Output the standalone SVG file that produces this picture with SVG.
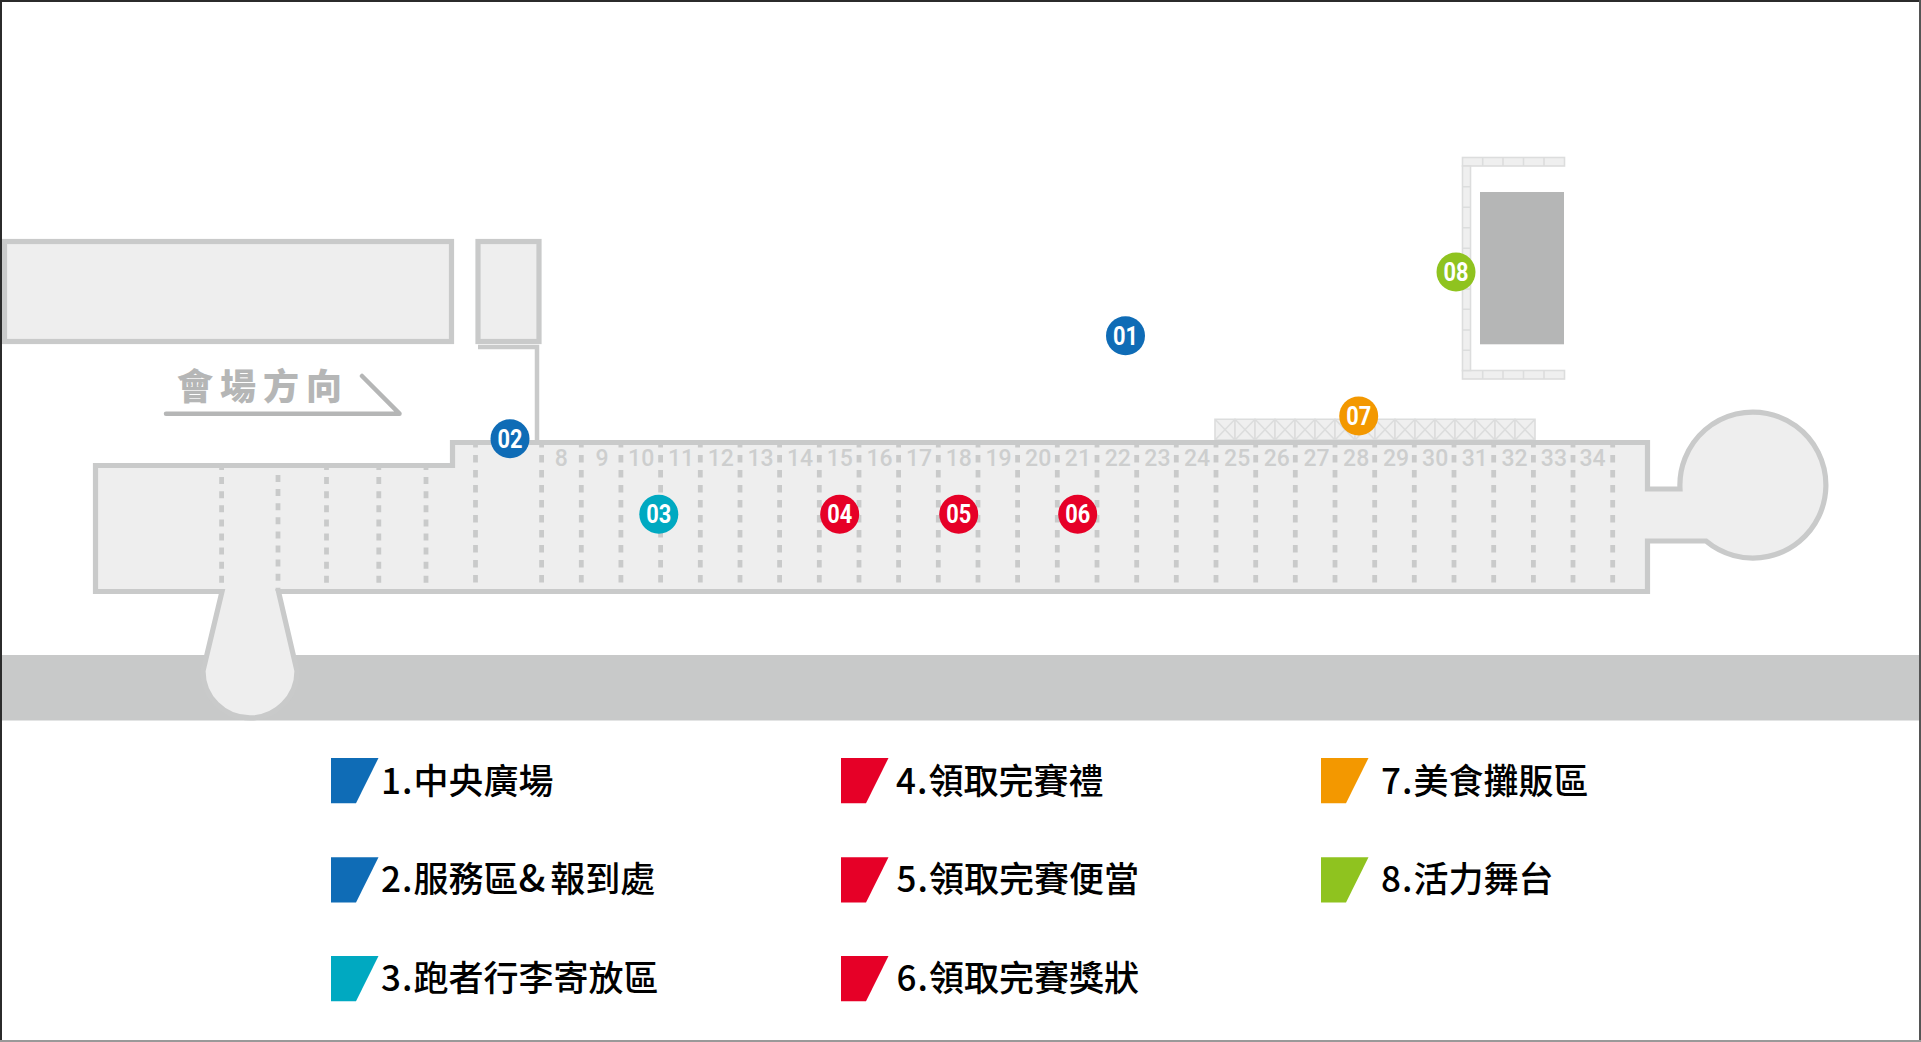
<svg xmlns="http://www.w3.org/2000/svg" width="1921" height="1042" viewBox="0 0 1921 1042">
<style>
.wall{fill:#eeeeee;stroke:#c9caca;stroke-width:5.200}
.line{fill:none;stroke:#c9caca;stroke-width:4.500}
.dash{fill:none;stroke:#c9caca;stroke-width:4.800}
.truss{fill:#efefef;stroke:#dcdddd;stroke-width:1.600}
.num{font-family:Roboto,"Liberation Sans",sans-serif;font-weight:500;font-size:23px;fill:#cdcece;text-anchor:middle}
.pin text{font-family:Roboto,"Liberation Sans",sans-serif;font-weight:700;font-size:25px;fill:#fff;text-anchor:middle}
.leg{font-family:"Noto Sans CJK TC","Noto Sans",sans-serif;font-size:35px;font-weight:500;fill:#000}
.leg .p{letter-spacing:1px}
.leg .amp{font-size:38px;letter-spacing:5px}
.dir{font-family:"Noto Sans CJK TC","Noto Sans",sans-serif;font-size:36px;font-weight:900;fill:#b5b6b6;letter-spacing:7px}
.blue{fill:#0f6cb6}.teal{fill:#00a9c1}.red{fill:#e60027}.orange{fill:#f39800}.green{fill:#8fc31f}
</style>
<defs>
<path id="cell" d="M0 0H20V20.700H0ZM0 0L20 20.700M20 0L0 20.700"/>
<polygon id="swatch" points="0,0 47.500,0 25,45.300 0,45.300"/>
</defs>
<rect id="background" width="1921" height="1042" fill="#fff"/>
<rect id="road" x="0" y="655" width="1921" height="65.500" fill="#c8c9c9"/>

<g id="buildings">
<rect class="wall" x="4.500" y="241.500" width="447" height="100"/>
<rect class="wall" x="478" y="241.500" width="61" height="100"/>
<path class="line" d="M478 347H537V442"/>
</g>

<g id="direction">
<text class="dir" x="177" y="400">會場方向</text>
<path d="M166 413.700H399.500L362 376" fill="none" stroke="#b5b6b6" stroke-width="4.500" stroke-linecap="round" stroke-linejoin="round"/>
</g>

<g id="stage">
<g class="truss">
<rect x="1462.500" y="157.500" width="102" height="8.500"/>
<path d="M1482.700 157.500V166M1503 157.500V166M1523.500 157.500V166M1544 157.500V166"/>
<rect x="1462.500" y="370.500" width="102" height="8.500"/>
<path d="M1482.700 370.500V379M1503 370.500V379M1523.500 370.500V379M1544 370.500V379"/>
<rect x="1462.500" y="166" width="8" height="204.500"/>
<path d="M1462.500 186.700H1470.500M1462.500 207.300H1470.500M1462.500 227.700H1470.500M1462.500 248.300H1470.500M1462.500 268.700H1470.500M1462.500 289H1470.500M1462.500 309.300H1470.500M1462.500 330H1470.500M1462.500 350.300H1470.500"/>
</g>
<rect x="1480" y="192" width="84" height="152.300" fill="#b5b6b6"/>
</g>

<g id="food-truss" class="truss">
<use href="#cell" x="1215" y="419.300"/><use href="#cell" x="1235" y="419.300"/><use href="#cell" x="1255" y="419.300"/><use href="#cell" x="1275" y="419.300"/><use href="#cell" x="1295" y="419.300"/><use href="#cell" x="1315" y="419.300"/><use href="#cell" x="1335" y="419.300"/><use href="#cell" x="1355" y="419.300"/><use href="#cell" x="1375" y="419.300"/><use href="#cell" x="1395" y="419.300"/><use href="#cell" x="1415" y="419.300"/><use href="#cell" x="1435" y="419.300"/><use href="#cell" x="1455" y="419.300"/><use href="#cell" x="1475" y="419.300"/><use href="#cell" x="1495" y="419.300"/><use href="#cell" x="1515" y="419.300"/>
</g>

<g id="hall">
<path class="wall" d="M452.500 465.500V442.500H1647.500V489H1680A73 73 0 1 1 1706 541H1647.500V591.500H278.500L297 671A47 47 0 0 1 203 671L222 591.500H95.500V465.500Z"/>
<path class="dash" stroke-dasharray="7 7.100" d="M221.600 463V583M326.500 463V583M378.800 463V583M426 463V583"/>
<path class="dash" stroke-dasharray="7 7.100" d="M278 475V591"/>
<path class="dash" stroke-dasharray="7.500 7.500" d="M475.500 440V583M541.600 440V583M581.300 440V583M620.900 440V583M660.600 440V583M700.300 440V583M740 440V583M779.600 440V583M819.300 440V583M859 440V583M898.600 440V583M938.300 440V583M978 440V583M1017.600 440V583M1057.300 440V583M1097 440V583M1136.700 440V583M1176.300 440V583M1216 440V583M1255.700 440V583M1295.300 440V583M1335 440V583M1374.700 440V583M1414.300 440V583M1454 440V583M1493.700 440V583M1533.400 440V583M1573 440V583M1612.700 440V583"/>
<g id="hall-numbers">
<text class="num" x="561.400" y="466">8</text><text class="num" x="602" y="466">9</text><text class="num" x="641.200" y="466">10</text><text class="num" x="681" y="466">11</text><text class="num" x="720.800" y="466">12</text><text class="num" x="760.500" y="466">13</text><text class="num" x="800" y="466">14</text><text class="num" x="839.800" y="466">15</text><text class="num" x="879.500" y="466">16</text><text class="num" x="919" y="466">17</text><text class="num" x="958.800" y="466">18</text><text class="num" x="998.500" y="466">19</text><text class="num" x="1038.200" y="466">20</text><text class="num" x="1077.900" y="466">21</text><text class="num" x="1117.800" y="466">22</text><text class="num" x="1157.400" y="466">23</text><text class="num" x="1197" y="466">24</text><text class="num" x="1237.200" y="466">25</text><text class="num" x="1276.800" y="466">26</text><text class="num" x="1316.500" y="466">27</text><text class="num" x="1356.200" y="466">28</text><text class="num" x="1396" y="466">29</text><text class="num" x="1435.200" y="466">30</text><text class="num" x="1474.800" y="466">31</text><text class="num" x="1514.500" y="466">32</text><text class="num" x="1553.900" y="466">33</text><text class="num" x="1592.600" y="466">34</text>
</g>
</g>

<g id="pin-01" class="pin"><circle class="blue" cx="1125.500" cy="335.700" r="19.500"/><text x="1125.500" y="344.600" textLength="25" lengthAdjust="spacingAndGlyphs">01</text></g>
<g id="pin-02" class="pin"><circle class="blue" cx="510" cy="438.700" r="19.500"/><text x="510" y="447.600" textLength="25" lengthAdjust="spacingAndGlyphs">02</text></g>
<g id="pin-03" class="pin"><circle class="teal" cx="658.800" cy="514.300" r="19.500"/><text x="658.800" y="523.200" textLength="25" lengthAdjust="spacingAndGlyphs">03</text></g>
<g id="pin-04" class="pin"><circle class="red" cx="839.700" cy="514.300" r="19.500"/><text x="839.700" y="523.200" textLength="25" lengthAdjust="spacingAndGlyphs">04</text></g>
<g id="pin-05" class="pin"><circle class="red" cx="958.700" cy="514.300" r="19.500"/><text x="958.700" y="523.200" textLength="25" lengthAdjust="spacingAndGlyphs">05</text></g>
<g id="pin-06" class="pin"><circle class="red" cx="1077.700" cy="514.300" r="19.500"/><text x="1077.700" y="523.200" textLength="25" lengthAdjust="spacingAndGlyphs">06</text></g>
<g id="pin-07" class="pin"><circle class="orange" cx="1358.700" cy="416" r="19.500"/><text x="1358.700" y="424.900" textLength="25" lengthAdjust="spacingAndGlyphs">07</text></g>
<g id="pin-08" class="pin"><circle class="green" cx="1456" cy="272" r="19.500"/><text x="1456" y="280.900" textLength="25" lengthAdjust="spacingAndGlyphs">08</text></g>

<g id="legend">
<g id="legend-1"><use href="#swatch" class="blue" x="331" y="758"/><text class="leg" x="381" y="794"><tspan class="p">1.</tspan>中央廣場</text></g>
<g id="legend-2"><use href="#swatch" class="blue" x="331" y="857.300"/><text class="leg" x="381" y="891.700"><tspan class="p">2.</tspan>服務區<tspan class="amp">&amp;</tspan>報到處</text></g>
<g id="legend-3"><use href="#swatch" class="teal" x="331" y="956"/><text class="leg" x="381" y="991"><tspan class="p">3.</tspan>跑者行李寄放區</text></g>
<g id="legend-4"><use href="#swatch" class="red" x="841" y="758"/><text class="leg" x="896" y="794"><tspan class="p">4.</tspan>領取完賽禮</text></g>
<g id="legend-5"><use href="#swatch" class="red" x="841" y="857.300"/><text class="leg" x="896.500" y="891.700"><tspan class="p">5.</tspan>領取完賽便當</text></g>
<g id="legend-6"><use href="#swatch" class="red" x="841" y="956"/><text class="leg" x="896.500" y="991"><tspan class="p">6.</tspan>領取完賽獎狀</text></g>
<g id="legend-7"><use href="#swatch" class="orange" x="1321" y="758"/><text class="leg" x="1381" y="794"><tspan class="p">7.</tspan>美食攤販區</text></g>
<g id="legend-8"><use href="#swatch" class="green" x="1321" y="857.300"/><text class="leg" x="1381" y="891.700"><tspan class="p">8.</tspan>活力舞台</text></g>
</g>

<g id="frame">
<rect x="0" y="0" width="1921" height="2" fill="#2b2b2b"/>
<rect x="0" y="0" width="2" height="1042" fill="#2b2b2b"/>
<rect x="1919" y="0" width="2" height="1042" fill="#555"/>
<rect x="0" y="1040" width="1921" height="2" fill="#999"/>
</g>
</svg>
